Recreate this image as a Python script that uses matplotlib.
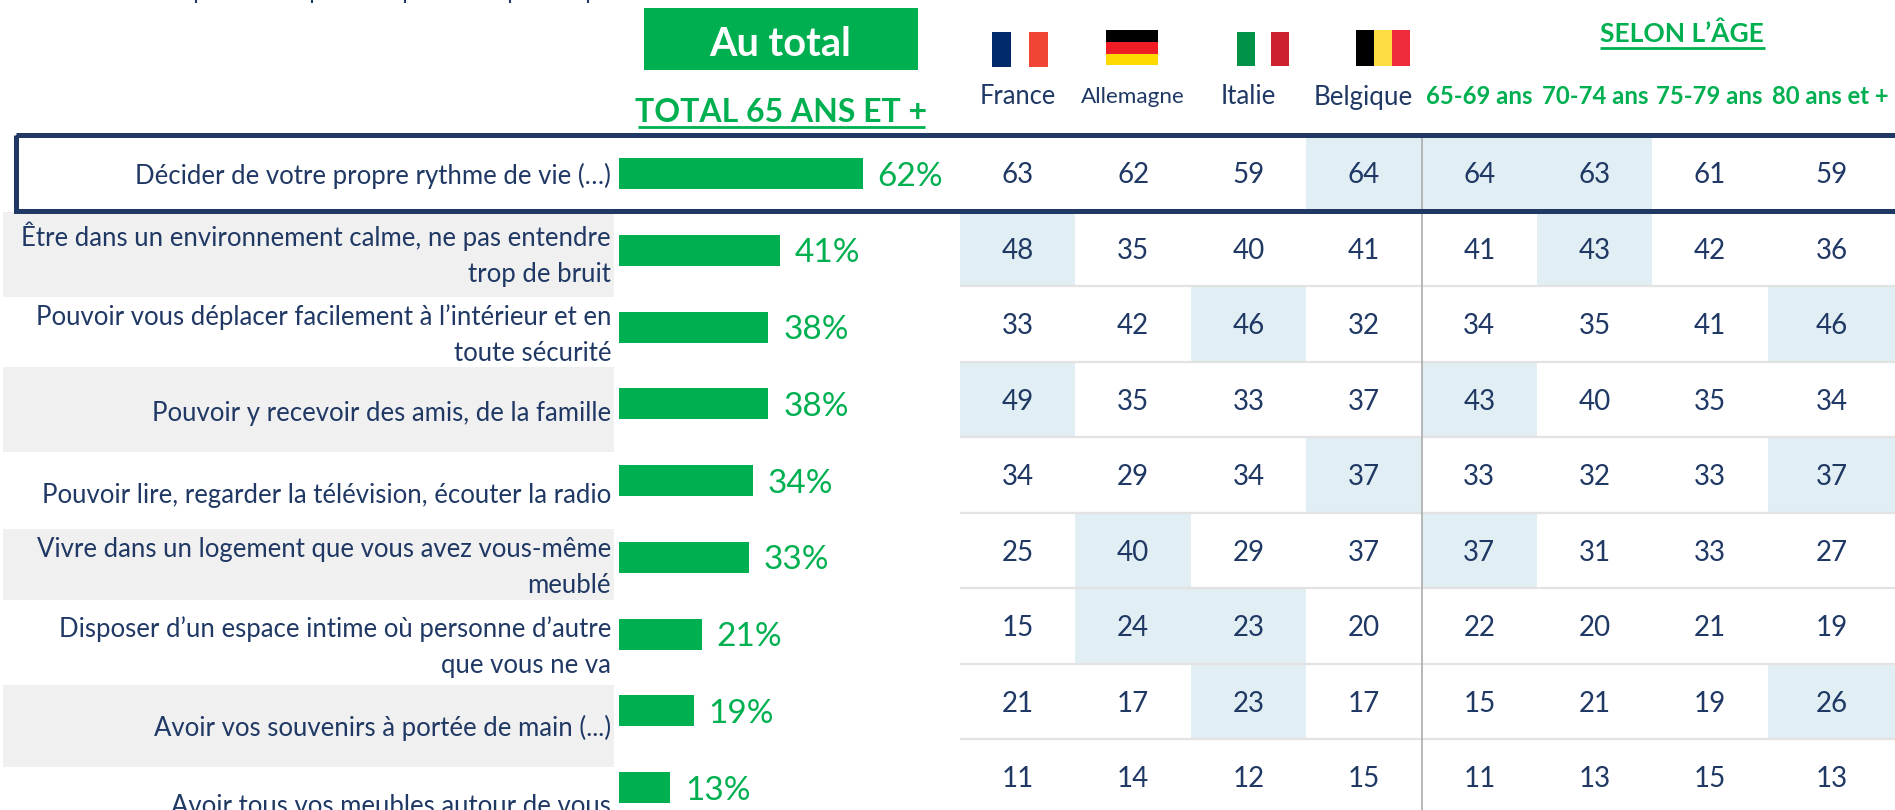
import matplotlib
matplotlib.use('Agg')
import matplotlib.pyplot as plt
from matplotlib.patches import Rectangle
from matplotlib.lines import Line2D
from matplotlib.transforms import Affine2D

W, H = 1895, 810
NAVY = '#1F3864'
GREEN = '#00B050'
plt.rcParams['font.family'] = ['Lato', 'DejaVu Sans']

labels = [
    'Décider de votre propre rythme de vie (…)',
    'Être dans un environnement calme, ne pas entendre\ntrop de bruit',
    'Pouvoir vous déplacer facilement à l’intérieur et en\ntoute sécurité',
    'Pouvoir y recevoir des amis, de la famille',
    'Pouvoir lire, regarder la télévision, écouter la radio',
    'Vivre dans un logement que vous avez vous-même\nmeublé',
    'Disposer d’un espace intime où personne d’autre\nque vous ne va',
    'Avoir vos souvenirs à portée de main (...)',
    'Avoir tous vos meubles autour de vous',
]
total = [62, 41, 38, 38, 34, 33, 21, 19, 13]
countries = ['France', 'Allemagne', 'Italie', 'Belgique']
ages = ['65-69 ans', '70-74 ans', '75-79 ans', '80 ans et +']
table = [
    [63, 62, 59, 64, 64, 63, 61, 59],
    [48, 35, 40, 41, 41, 43, 42, 36],
    [33, 42, 46, 32, 34, 35, 41, 46],
    [49, 35, 33, 37, 43, 40, 35, 34],
    [34, 29, 34, 37, 33, 32, 33, 37],
    [25, 40, 29, 37, 37, 31, 33, 27],
    [15, 24, 23, 20, 22, 20, 21, 19],
    [21, 17, 23, 17, 15, 21, 19, 26],
    [11, 14, 12, 15, 11, 13, 15, 13],
]
# cells with the light blue background, one list of columns per row
highlight = [[3, 4, 5], [0, 5], [2, 7], [0, 4], [3, 7], [1, 4], [1, 2], [2, 7], []]

fig = plt.figure(figsize=(W / 100, H / 100), dpi=100)
# pixel coordinates, y going down, for everything that is not data
px = Affine2D().scale(1, -1).translate(0, H)


def add_ax(x0, y0, x1, y1):
    ax = fig.add_axes([x0 / W, 1 - y1 / H, (x1 - x0) / W, (y1 - y0) / H])
    ax.axis('off')
    return ax


def rect(x0, y0, x1, y1, color, z=1):
    fig.add_artist(Rectangle((x0, y0), x1 - x0, y1 - y0, transform=px,
                             facecolor=color, edgecolor='none', zorder=z))


def line(x0, y0, x1, y1, color, lw, z=1):
    fig.add_artist(Line2D([x0, x1], [y0, y1], transform=px, color=color,
                          linewidth=lw, zorder=z, solid_capstyle='butt'))


def text(x, y, s, **kw):
    fig.text(x, y, s, transform=px, va='center', **kw)


# grey bands behind the labels
for y0, y1 in [(212, 297), (367, 452), (529, 600), (685, 767)]:
    rect(3, y0, 614, y1, '#F0F0F0', z=-1)

# labels
label_y = [176, 254.5, 335, 413, 495, 567.5, 647, 728, 806]
for s, y in zip(labels, label_y):
    text(611, y, s, ha='right', color=NAVY, fontsize=18.55, linespacing=1.56,
         multialignment='right', zorder=3)

# bars
ax_bar = add_ax(619, 135, 1012, H)
ax_bar.set_xlim(0, 100)
ax_bar.set_ylim((H - 173.5) / 76.75, (135 - 173.5) / 76.75)
rows = list(range(len(total)))
ax_bar.barh(rows, total, height=31 / 76.75, color=GREEN)
for i, v in zip(rows, total):
    ax_bar.annotate(f'{v}%', (v, i), xytext=(15, -3), textcoords='offset pixels',
                    color=GREEN, fontsize=24, va='center', ha='left',
                    annotation_clip=False)

# table
edges = [0, 1, 2, 3, 4, 5, 6, 7, 8.102]
ax_tab = add_ax(960, 135.5, W, H)
ax_tab.set_xlim(edges[0], edges[-1])
ax_tab.set_ylim((H - 173) / 75.5, -0.5)
for r, cols in enumerate(highlight):
    for c in cols:
        ax_tab.bar(edges[c], 1, width=edges[c + 1] - edges[c], bottom=r - 0.5,
                   align='edge', color='#E1EEF3', zorder=1)
for r in range(1, 8):
    ax_tab.axhline(r + 0.5, color='#E3E3E3', linewidth=1.6, zorder=2)
ax_tab.axvline(4, color='#ABABAB', linewidth=1.2, zorder=3)
for r, row in enumerate(table):
    for c, v in enumerate(row):
        ax_tab.annotate(str(v), ((edges[c] + edges[c + 1]) / 2, r), xytext=(0, -2),
                        textcoords='offset pixels', ha='center', va='center',
                        color=NAVY, fontsize=20, zorder=4, annotation_clip=False)

# frame round the first row
fig.add_artist(Rectangle((16, 135), W + 3 - 16, 76, transform=px, fill=False,
                         edgecolor=NAVY, linewidth=3.6, zorder=2))

# headers
rect(644, 8, 917.5, 70, GREEN)
text(780, 44, 'Au total', color='white', fontsize=28.5, fontweight='bold', ha='center', zorder=3)
text(781, 112, 'TOTAL 65 ANS ET +', color=GREEN, fontsize=23, fontweight='bold', ha='center', zorder=3)
line(638, 127, 925, 127, GREEN, 2)
text(1682, 34, 'SELON L’ÂGE', color=GREEN, fontsize=19, fontweight='bold', ha='center', zorder=3)
line(1600, 47.5, 1765, 47.5, GREEN, 2)

country_x = [1017.5, 1133, 1248, 1363.5]
for s, x, fs in zip(countries, country_x, [18.4, 16.2, 18.6, 18.6]):
    text(x, 97, s, color=NAVY, fontsize=fs, ha='center', zorder=3)
age_x = [1479, 1595, 1709, 1830]
for s, x in zip(ages, age_x):
    text(x, 97, s, color=GREEN, fontsize=17.2, fontweight='bold', ha='center', zorder=3)

# flags
for x0, x1, c in [(992, 1011, '#002A6C'), (1011, 1029, '#FFFFFF'), (1029, 1048, '#F04535')]:
    rect(x0, 32, x1, 67, c)
for y0, y1, c in [(30, 42, '#000000'), (42, 54, '#EE1C25'), (54, 65, '#FFDA00')]:
    rect(1106, y0, 1158, y1, c)
for x0, x1, c in [(1237, 1255, '#009246'), (1255, 1271, '#FFFFFF'), (1271, 1289, '#CF2030')]:
    rect(x0, 32, x1, 66, c)
for x0, x1, c in [(1356, 1374, '#000000'), (1374, 1392, '#FDDD42'), (1392, 1410, '#EF2B3C')]:
    rect(x0, 30, x1, 66, c)

# tails of the title line cut off by the top of the picture
for x in [196, 312, 405, 510, 588]:
    line(x, 0, x, 3.2, NAVY, 1.5)

fig.savefig('out.png', dpi=100, facecolor='white')
